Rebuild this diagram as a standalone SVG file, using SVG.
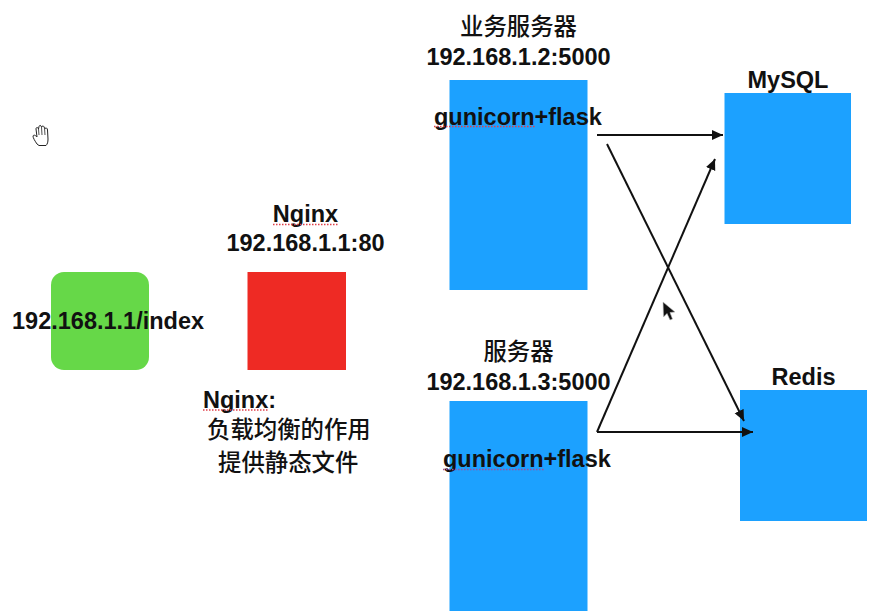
<svg xmlns="http://www.w3.org/2000/svg" width="886" height="615" viewBox="0 0 886 615">
<style>
.t{font-family:"Liberation Sans","Noto Sans CJK SC",sans-serif;font-size:23.500px;font-weight:700;fill:#111}
.z{font-family:"Noto Sans CJK SC",sans-serif;font-size:23.400px;font-weight:500;fill:#111}
.c{text-anchor:middle}
.b{fill:#1ca1ff}
.u{stroke:#e0404a;stroke-width:1.4;stroke-dasharray:1.5 1.5;fill:none}
.l{stroke:#111;stroke-width:2;fill:none;marker-end:url(#a)}
</style>
<defs>
<marker id="a" markerUnits="userSpaceOnUse" markerWidth="14" markerHeight="12" refX="11" refY="5" orient="auto">
<path d="M0 0L11 5L0 10Z" fill="#111"/>
</marker>
</defs>
<rect width="886" height="615" fill="#fff"/>
<g id="client">
<rect x="51" y="272" width="98" height="98" rx="13" fill="#66d848"/>
<text class="t" x="12" y="329">192.168.1.1/index</text>
</g>
<g id="nginx">
<rect x="247.500" y="272" width="98.500" height="98" fill="#ee2a24"/>
<text class="t c" x="305.500" y="222">Nginx</text>
<path class="u" d="M273 224.500H338"/>
<text class="t c" x="305.500" y="251">192.168.1.1:80</text>
</g>
<g id="nginx-note">
<text class="t" x="203" y="408">Nginx:</text>
<path class="u" d="M203 410H268"/>
<text class="z" x="207" y="438">负载均衡的作用</text>
<text class="z" x="218" y="471">提供静态文件</text>
</g>
<g id="server1">
<rect class="b" x="449.500" y="80" width="138" height="210"/>
<text class="z c" x="518.500" y="35">业务服务器</text>
<text class="t c" x="518.500" y="65">192.168.1.2:5000</text>
<text class="t" x="434" y="125">gunicorn+flask</text>
<path class="u" d="M434 126.500H535"/>
</g>
<g id="server2">
<rect class="b" x="449.500" y="401" width="138" height="210"/>
<text class="z c" x="518.500" y="360">服务器</text>
<text class="t c" x="518.500" y="390">192.168.1.3:5000</text>
<text class="t" x="443" y="467">gunicorn+flask</text>
<path class="u" d="M443 469.500H544" style="stroke:#a0509a"/>
</g>
<g id="mysql">
<rect class="b" x="724.500" y="93" width="126.500" height="131"/>
<text class="t c" x="788" y="88">MySQL</text>
</g>
<g id="redis">
<rect class="b" x="740" y="390" width="127" height="131"/>
<text class="t c" x="803.500" y="385">Redis</text>
</g>
<g id="connectors">
<path class="l" d="M597 135H723"/>
<path class="l" d="M607 144L744 421"/>
<path class="l" d="M597 432L715 159"/>
<path class="l" d="M597 432H753"/>
</g>
<g id="hand-cursor">
<path d="M37 144C35 141 33 138 33 136C34 134 36 136 37 137L36 129C36 127 38 127 38.500 129L39 126.500C39.500 125 41 125 41.500 127L42 126.500C43 125.500 44 126 44.500 128L45 128.500C46 127.500 47.500 128 47.500 130L48 139C48 142 47.500 144 46 145.500H39Z" fill="#fff" stroke="#222" stroke-width="1"/>
<path d="M38.500 129L39 135M41.500 127L42 135M44.500 128L45 135" stroke="#222" stroke-width=".8" fill="none"/>
</g>
<g id="arrow-cursor">
<path d="M663 302L663.500 317L667 313.500L670 320L672.500 319L670 312.500L675 312Z" fill="#111" stroke="#bbb" stroke-width=".6"/>
</g>
</svg>
